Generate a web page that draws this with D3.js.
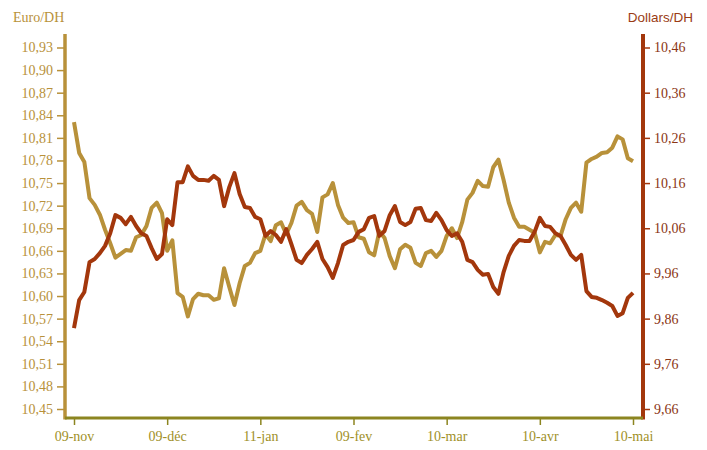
<!DOCTYPE html>
<html><head><meta charset="utf-8">
<script src="https://cdn.jsdelivr.net/npm/d3@7"></script>
<style>body{margin:0;background:#fff}svg{display:block}</style>
</head><body><svg id="c" width="707" height="450"></svg>
<script>
const tickLabels = ["09-nov","09-déc","11-jan","09-fev","10-mar","10-avr","10-mai"];
const tickIndex = [0,18,36,54,72,90,108];
const euroTicks = [10.45,10.48,10.51,10.54,10.57,10.60,10.63,10.66,10.69,10.72,10.75,10.78,10.81,10.84,10.87,10.90,10.93];
const dollarTicks = [9.66,9.76,9.86,9.96,10.06,10.16,10.26,10.36,10.46];
const euroDH = [10.831,10.790,10.778,10.730,10.721,10.708,10.688,10.670,10.651,10.656,
10.661,10.660,10.678,10.681,10.693,10.717,10.724,10.710,10.660,10.674,
10.604,10.599,10.573,10.596,10.603,10.601,10.601,10.595,10.597,10.637,
10.612,10.588,10.617,10.640,10.644,10.657,10.660,10.682,10.673,10.694,
10.698,10.682,10.697,10.720,10.725,10.714,10.709,10.685,10.731,10.735,
10.750,10.721,10.704,10.697,10.698,10.678,10.676,10.658,10.654,10.686,
10.677,10.653,10.637,10.662,10.668,10.664,10.644,10.640,10.657,10.660,
10.652,10.660,10.680,10.690,10.677,10.698,10.728,10.737,10.753,10.746,
10.745,10.771,10.781,10.754,10.724,10.704,10.692,10.692,10.688,10.684,
10.658,10.672,10.670,10.681,10.680,10.702,10.717,10.724,10.712,10.777,
10.782,10.785,10.790,10.791,10.797,10.812,10.808,10.783,10.779];
const dollarDH = [9.839,9.901,9.919,9.985,9.992,10.005,10.021,10.049,10.089,10.083,
10.069,10.085,10.065,10.049,10.043,10.016,9.992,10.003,10.080,10.067,
10.162,10.162,10.197,10.176,10.167,10.167,10.165,10.176,10.167,10.109,
10.151,10.182,10.136,10.107,10.105,10.085,10.080,10.043,10.054,10.045,
10.030,10.058,10.025,9.990,9.983,10.001,10.014,10.030,9.992,9.974,
9.950,9.983,10.023,10.030,10.034,10.052,10.058,10.083,10.087,10.043,
10.054,10.089,10.109,10.074,10.067,10.074,10.103,10.105,10.078,10.076,
10.094,10.078,10.056,10.043,10.049,10.030,9.990,9.985,9.968,9.957,
9.959,9.930,9.915,9.963,9.999,10.021,10.034,10.032,10.032,10.052,
10.083,10.065,10.063,10.049,10.043,10.023,10.001,9.990,10.001,9.921,
9.908,9.906,9.901,9.895,9.888,9.866,9.872,9.906,9.917];

const svg = d3.select("#c");
const gold = "#b8913a", red = "#a3370c", olive = "#8c8520";
const xL = 65, xR = 643, yB = 418, yT = 34;
const x = d3.scaleLinear().domain([0, euroDH.length-1]).range([74, 633]);
const yE = d3.scaleLinear().domain([10.45,10.93]).range([409,47.5]);
const yD = d3.scaleLinear().domain([9.66,10.46]).range([409,47.5]);
const serif = "'Liberation Serif','Times New Roman',serif";

// lines
svg.append("path").datum(euroDH)
  .attr("d", d3.line().x((d,i)=>x(i)).y(d=>yE(d)))
  .attr("fill","none").attr("stroke",gold).attr("stroke-width",4).attr("stroke-linejoin","round");
svg.append("path").datum(dollarDH)
  .attr("d", d3.line().x((d,i)=>x(i)).y(d=>yD(d)))
  .attr("fill","none").attr("stroke",red).attr("stroke-width",4).attr("stroke-linejoin","round");

// left axis
const gl = svg.append("g").attr("transform",`translate(${xL},0)`)
  .call(d3.axisLeft(yE).tickValues(euroTicks).tickSize(8).tickPadding(4).tickFormat(d=>d3.format(".2f")(d).replace(".",",")));
gl.select(".domain").remove();
gl.selectAll(".tick line").attr("stroke",gold).attr("stroke-width",1.5);
gl.selectAll(".tick text").attr("fill",gold).style("font-family",serif).style("font-size","14px");
svg.append("line").attr("x1",xL).attr("x2",xL).attr("y1",yT).attr("y2",yB+1.5).attr("stroke",gold).attr("stroke-width",3.5);

// right axis
const gr = svg.append("g").attr("transform",`translate(${xR},0)`)
  .call(d3.axisRight(yD).tickValues(dollarTicks).tickSize(7).tickPadding(4).tickFormat(d=>d3.format(".2f")(d).replace(".",",")));
gr.select(".domain").remove();
gr.selectAll(".tick line").attr("stroke",red).attr("stroke-width",1.5);
gr.selectAll(".tick text").attr("fill","#8b3514").style("font-family",serif).style("font-size","14px");
svg.append("line").attr("x1",xR).attr("x2",xR).attr("y1",yT).attr("y2",yB+1.5).attr("stroke",red).attr("stroke-width",4);

// bottom axis
const gb = svg.append("g").attr("transform",`translate(0,${yB})`)
  .call(d3.axisBottom(x).tickValues(tickIndex).tickSize(7).tickPadding(6).tickFormat((d,i)=>tickLabels[i]));
gb.select(".domain").remove();
gb.selectAll(".tick line").attr("stroke",olive).attr("stroke-width",1.5);
gb.selectAll(".tick text").attr("fill","#a09028").style("font-family",serif).style("font-size","14px");
svg.append("line").attr("x1",xL).attr("x2",xR).attr("y1",yB).attr("y2",yB).attr("stroke",olive).attr("stroke-width",3);

// titles
svg.append("text").attr("x",13).attr("y",22).text("Euro/DH").attr("fill",gold)
  .style("font-family",serif).style("font-size","14px");
svg.append("text").attr("x",693).attr("y",22).attr("text-anchor","end").text("Dollars/DH").attr("fill","#9a3c14")
  .style("font-family","'Liberation Sans',Arial,sans-serif").style("font-size","13.5px");
</script></body></html>
